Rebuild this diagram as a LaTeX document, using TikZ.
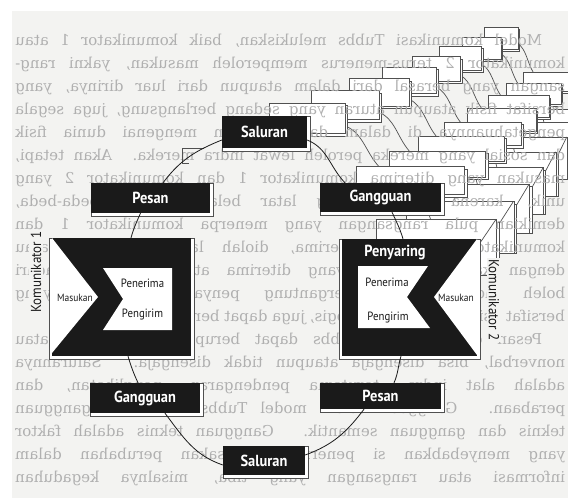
\documentclass[tikz,border=0pt]{standalone}
\usepackage{fontspec}
\usepackage{graphicx}
\newfontfamily\labf[FakeStretch=0.9]{PT Sans}
\newfontfamily\bookf{DejaVu Serif}
\usetikzlibrary{calc}
\pgfdeclarelayer{bgl}
\pgfdeclarelayer{ghostl}
\pgfdeclarelayer{textl}
\pgfdeclarelayer{framel}
\pgfsetlayers{bgl,ghostl,textl,framel,main}
\definecolor{page}{HTML}{F3F3F1}
\definecolor{ink}{HTML}{1A1A1A}
\definecolor{gcol}{HTML}{505050}
\definecolor{btext}{HTML}{B0B0B0}
\tikzset{
  blackbox/.style={fill=ink, text=white, inner sep=0pt, font=\labf\bfseries\fontsize{16}{16}\selectfont},
  framebox/.style={draw=gcol, line width=0.6pt, fill=white},
  conn/.style={draw=ink, line width=0.8pt},
  smalllab/.style={inner sep=0pt, font=\labf\fontsize{12}{12}\selectfont, text=ink},
  tinylab/.style={inner sep=0pt, font=\labf\fontsize{10.5}{10.5}\selectfont, text=ink},
  sidelab/.style={inner sep=1.5pt, fill=page, font=\labf\fontsize{14.5}{14.5}\selectfont, text=ink},
  gbox/.style={draw=gcol, line width=0.7pt, fill=white},
  gstroke/.style={draw=gcol, line width=0.7pt},
  bookline/.style={inner sep=0pt, anchor=base west, text=btext, font=\bookf\fontsize{15}{15}\selectfont},
}
\newcommand\bookrow[2]{\node[bookline] at (15,{-(45+23*#1)}) {\reflectbox{\makebox[550pt][s]{#2}}};}
\newcommand\bookrowind[2]{\node[bookline] at (15,{-(45+23*#1)}) {\reflectbox{\makebox[527pt][s]{#2}}};}
\newcommand\ghostset{%
  \draw[gstroke] (345,-183) to[out=134,in=338] (307,-140);
  \draw[gstroke] (403,-239) to[out=107,in=295] (392,-212);
  \draw[gbox] (225,-119) rectangle (310,-151);
  \draw[gbox] (222,-116) rectangle (307,-148);
  \draw[gbox] (323,-186) rectangle (444,-215);
  \draw[gbox] (320,-183) rectangle (441,-212);
  \draw[gbox] (345,-242) rectangle (480,-297);
  \draw[gbox] (342,-239) rectangle (477,-297);
  \draw[gstroke] (476,-239) -- (434,-297);
  \draw[gstroke] (358,-297) -- (358,-266) -- (428,-266) -- (407,-297);
}
\begin{document}
\begin{tikzpicture}[x=1pt,y=1pt]
\useasboundingbox (0,0) rectangle (568,-498);
\begin{pgfonlayer}{bgl}
  \fill[white] (0,0) rectangle (568,-498);
  \fill[page] (12,-11) rectangle (568,-498);
\end{pgfonlayer}
\begin{pgfonlayer}{textl}
  \bookrowind{0}{Model komunikasi Tubbs melukiskan, baik komunikator 1 atau}
  \bookrow{1}{komunikator 2 terus-menerus memperoleh masukan, yakni rang-}
  \bookrow{2}{sangan yang berasal dari dalam ataupun dari luar dirinya, yang}
  \bookrow{3}{bersifat fisik ataupun aturan yang sedang berlangsung, juga segala}
  \bookrow{4}{pengetahuannya di dalam dan perasaan mengenai dunia fisik}
  \bookrow{5}{dan sosial yang mereka peroleh lewat indra mereka. Akan tetapi,}
  \bookrow{6}{masukan yang diterima komunikator 1 dan komunikator 2 yang}
  \bookrow{7}{unik, karena masing-masing latar belakangnya berbeda-beda,}
  \bookrow{8}{demikian pula rangsangan yang menerpa komunikator 1 dan}
  \bookrow{9}{komunikator 2, yang diterima, diolah lalu ditafsirkan, atau}
  \bookrow{10}{dengan kata lain, apa yang diterima ataupun yang disadari}
  \bookrow{11}{boleh jadi berbeda, tergantung penyaring mental, yang}
  \node[bookline, anchor=base east] at (565,{-(45+23*12)}) {\reflectbox{bersifat fisiologis atau psikologis, juga dapat berbeda.}};
  \bookrowind{13}{Pesan dalam model Tubbs dapat berupa pesan verbal atau}
  \bookrow{14}{nonverbal, bisa disengaja ataupun tidak disengaja. Salurannya}
  \bookrow{15}{adalah alat indra, terutama pendengaran, penglihatan, dan}
  \bookrow{16}{perabaan. Gangguan dalam model Tubbs ada dua: gangguan}
  \bookrow{17}{teknis dan gangguan semantik. Gangguan teknis adalah faktor}
  \bookrow{18}{yang menyebabkan si penerima merasakan perubahan dalam}
  \bookrow{19}{informasi atau rangsangan yang tiba, misalnya kegaduhan}
\end{pgfonlayer}
\begin{pgfonlayer}{ghostl}
  \foreach \k in {8,7,...,1}{
    \pgfmathsetmacro\gs{0.892^\k}
    \pgfmathsetmacro\gsy{0.95^\k}
    \pgfmathsetmacro\gax{659*(1-\gs)}
    \pgfmathsetmacro\gay{146*(1-\gsy)}
    \begin{scope}[shift={(\gax,\gay)}, xscale=\gs, yscale=\gsy]
      \ghostset
    \end{scope}
  }
\end{pgfonlayer}
% small ghost fragment near the upper-left arc
\draw[gstroke] (204,-148) -- (182,-148) -- (182,-163) -- (189,-163);
% main boxes
\node[blackbox, minimum width=85pt, minimum height=32pt] (salT) at (264.5,-132) {Saluran};
\node[blackbox, minimum width=119pt, minimum height=30pt] (pesT) at (150.5,-198) {Pesan};
\node[blackbox, minimum width=121pt, minimum height=29pt] (ganT) at (380.5,-197.5) {Gangguan};
\node[blackbox, minimum width=110pt, minimum height=30pt] (ganB) at (145,-398) {Gangguan};
\node[blackbox, minimum width=82pt, minimum height=29pt] (salB) at (264,-460.5) {Saluran};
\node[blackbox, minimum width=121pt, minimum height=26pt] (pesB) at (380.5,-396) {Pesan};
\node[fill=ink, minimum width=139pt, minimum height=118pt, inner sep=0pt] (kom1) at (121.5,-297) {};
\node[fill=ink, minimum width=135pt, minimum height=117pt, inner sep=0pt] (kom2) at (409.5,-297.5) {};
\begin{pgfonlayer}{framel}
  \foreach \n in {salT,pesT,ganT,ganB,salB,pesB}{
    \draw[framebox] (\n.north west) rectangle ([shift={(3,-3)}]\n.south east);
  }
  \foreach \n in {kom1,kom2}{
    \draw[framebox] ([shift={(-3,0)}]\n.north west) rectangle ([shift={(3,-3)}]\n.south east);
  }
\end{pgfonlayer}
% cut-outs
\fill[white] (52,-238) -- (98,-297) -- (52,-353) -- cycle;
\fill[white] (103,-268) -- (172,-268) -- (172,-330) -- (103,-330) -- (123,-299) -- cycle;
\fill[white] (477,-239) -- (434,-297) -- (477,-355) -- cycle;
\fill[white] (358,-266) -- (428,-266) -- (407,-297) -- (430,-328) -- (358,-328) -- cycle;
% labels
\node[tinylab] (mas1) at (75,-298) {Masukan};
\node[smalllab] (pen1) at (142.5,-283) {Penerima};
\node[smalllab] (pgr1) at (142.5,-315) {Pengirim};
\node[tinylab] (mas2) at (456,-298) {Masukan};
\node[smalllab] (pen2) at (387,-282) {Penerima};
\node[smalllab] (pgr2) at (388,-318) {Pengirim};
\node[blackbox, fill=none] (peny) at (395,-253) {Penyaring};
\node[sidelab, rotate=90] (k1lab) at (36,-272) {Komunikator 1};
\node[sidelab, rotate=-90] (k2lab) at (494,-300) {Komunikator 2};
% connectors
\draw[conn] ([yshift=-8]salT.west) to[out=202,in=53] ([xshift=12.5]pesT.north);
\draw[conn] ([xshift=-10]pesT.south) to[out=246,in=74] ([xshift=9.5]kom1.north);
\draw[conn] ([xshift=6.5]kom1.south) to[out=287,in=115] ([xshift=-7]ganB.north);
\draw[conn] ([xshift=20]ganB.south) to[out=307,in=161] ([yshift=-4.5]salB.west);
\draw[conn] ([yshift=5.5]salB.east) to[out=20,in=233] ([xshift=-16.5]pesB.south);
\draw[conn] ([xshift=13.5]pesB.north) to[out=66,in=253] ([xshift=-8.5]kom2.south);
\draw[conn] ([xshift=-6.5]kom2.north) to[out=107,in=295] ([xshift=11.5]ganT.south);
\draw[conn] ([xshift=-35.5]ganT.north) to[out=134,in=338] ([yshift=-8]salT.east);
\end{tikzpicture}
\end{document}
